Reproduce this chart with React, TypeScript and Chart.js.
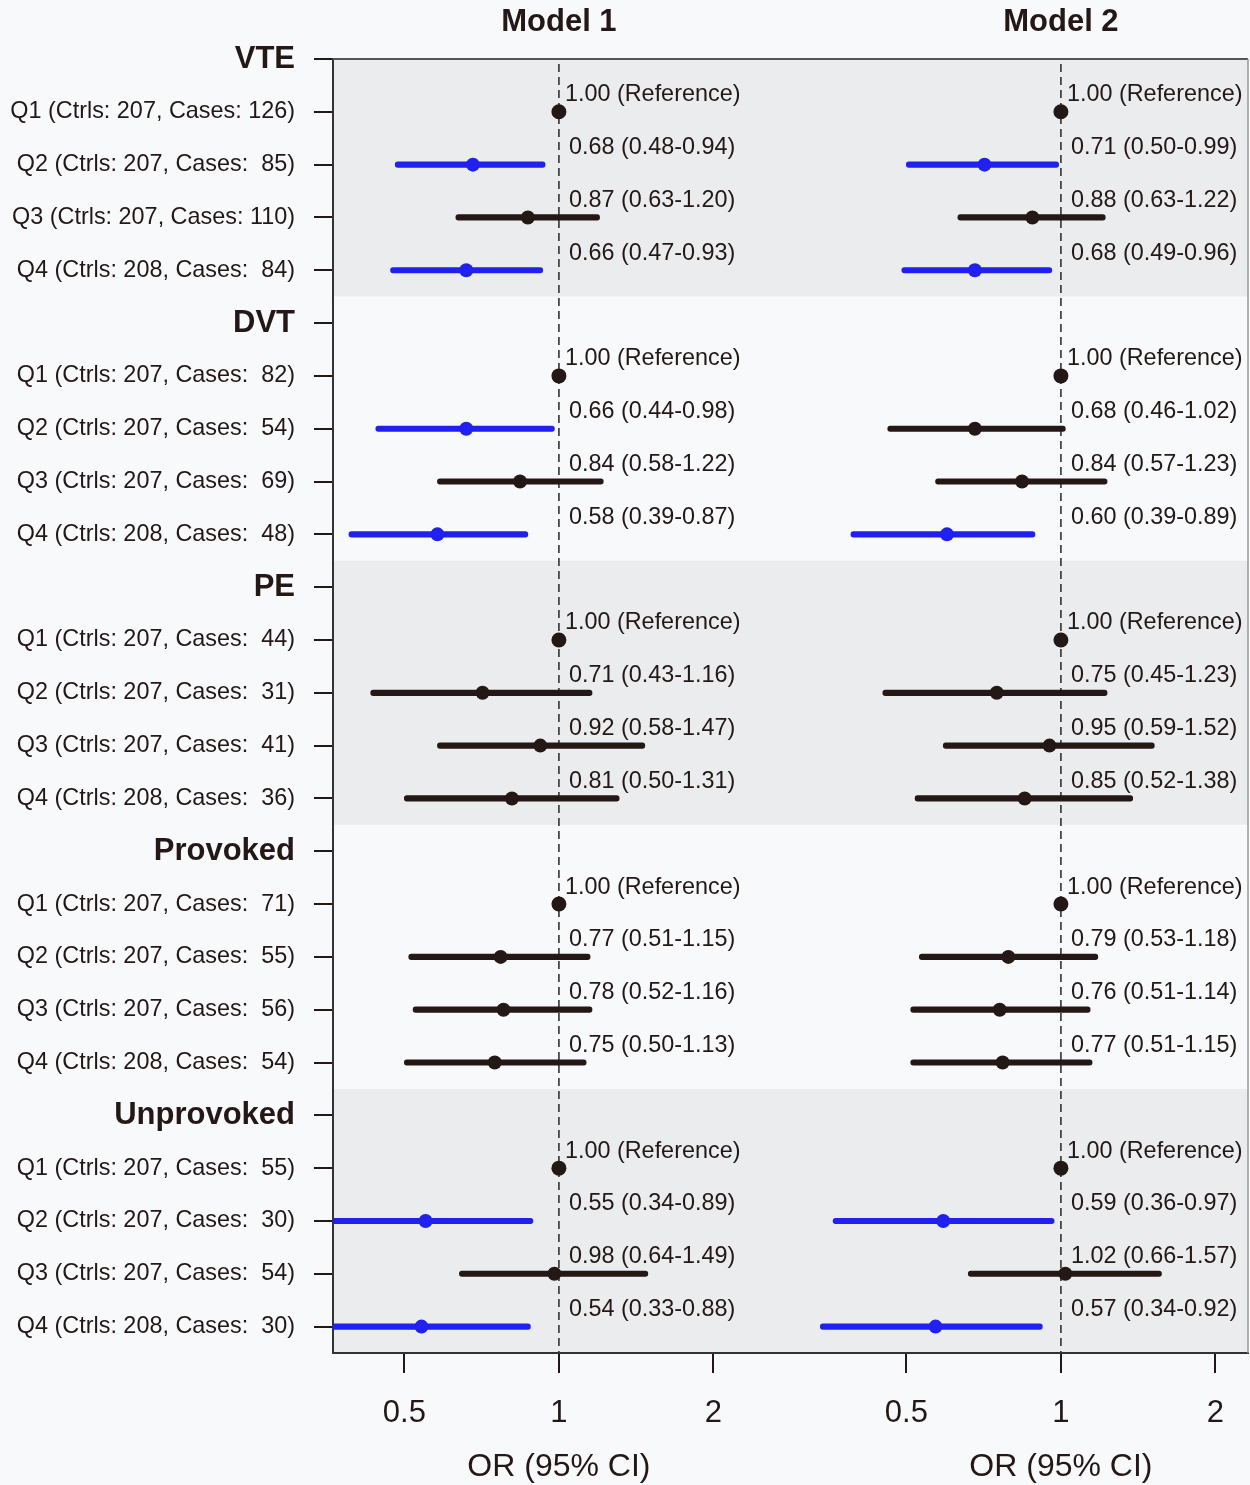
import { useEffect, useRef } from 'react';
import { Chart, registerables } from 'chart.js';

Chart.register(...registerables);

// ---------------- data ----------------
const groups = ['VTE', 'DVT', 'PE', 'Provoked', 'Unprovoked'];
const quartiles = ['Q1', 'Q2', 'Q3', 'Q4'];
const ctrls = [207, 207, 207, 208];
const cases = [
  [126, 85, 110, 84],
  [82, 54, 69, 48],
  [44, 31, 41, 36],
  [71, 55, 56, 54],
  [55, 30, 54, 30],
];

// Model 1
const m1Or = [
  [1, 0.68, 0.87, 0.66],
  [1, 0.66, 0.84, 0.58],
  [1, 0.71, 0.92, 0.81],
  [1, 0.77, 0.78, 0.75],
  [1, 0.55, 0.98, 0.54],
];
const m1Lo = [
  [null, 0.48, 0.63, 0.47],
  [null, 0.44, 0.58, 0.39],
  [null, 0.43, 0.58, 0.5],
  [null, 0.51, 0.52, 0.5],
  [null, 0.34, 0.64, 0.33],
];
const m1Hi = [
  [null, 0.94, 1.2, 0.93],
  [null, 0.98, 1.22, 0.87],
  [null, 1.16, 1.47, 1.31],
  [null, 1.15, 1.16, 1.13],
  [null, 0.89, 1.49, 0.88],
];

// Model 2
const m2Or = [
  [1, 0.71, 0.88, 0.68],
  [1, 0.68, 0.84, 0.6],
  [1, 0.75, 0.95, 0.85],
  [1, 0.79, 0.76, 0.77],
  [1, 0.59, 1.02, 0.57],
];
const m2Lo = [
  [null, 0.5, 0.63, 0.49],
  [null, 0.46, 0.57, 0.39],
  [null, 0.45, 0.59, 0.52],
  [null, 0.53, 0.51, 0.51],
  [null, 0.36, 0.66, 0.34],
];
const m2Hi = [
  [null, 0.99, 1.22, 0.96],
  [null, 1.02, 1.23, 0.89],
  [null, 1.23, 1.52, 1.38],
  [null, 1.18, 1.14, 1.15],
  [null, 0.97, 1.57, 0.92],
];

const modelTitles = ['Model 1', 'Model 2'];
const xTickValues = [0.5, 1, 2];
const xAxisTitle = 'OR (95% CI)';

// ---------------- styles ----------------
const FONT = "'Liberation Sans', Arial, sans-serif";
const INK = '#231815';
const BLUE = '#2020f0';
const PAGE_BG = '#f8f9fb';
const BAND_BG = '#ebeced';

// ---------------- build rows ----------------
const rowLabels: string[] = [];
const headerRows: boolean[] = [];
type Pt = { x: number; y: number; lo: number | null; hi: number | null };
const pts: Pt[][] = [[], []];
const bars: any[][] = [[], []];
const models = [
  [m1Or, m1Lo, m1Hi],
  [m2Or, m2Lo, m2Hi],
];

groups.forEach((g, gi) => {
  rowLabels.push(g);
  headerRows.push(true);
  quartiles.forEach((q, qi) => {
    const y = rowLabels.length;
    rowLabels.push(`${q} (Ctrls: ${ctrls[qi]}, Cases: ${String(cases[gi][qi]).padStart(3, ' ')})`);
    headerRows.push(false);
    models.forEach(([or, lo, hi], mi) => {
      const p: Pt = { x: or[gi][qi] as number, y, lo: lo[gi][qi], hi: hi[gi][qi] };
      pts[mi].push(p);
      if (p.lo != null && p.hi != null) {
        bars[mi].push({ x: [p.lo, p.hi], y, hi: p.hi });
      }
    });
  });
});

const isSig = (hi: number | null | undefined) => hi != null && hi < 1;

const fmt = (p: Pt) =>
  p.lo == null
    ? '1.00 (Reference)'
    : `${p.x.toFixed(2)} (${p.lo.toFixed(2)}-${(p.hi as number).toFixed(2)})`;

const decorPlugin = {
  id: 'decor',
  beforeDraw(chart: any) {
    const { ctx, chartArea: a, scales } = chart;
    ctx.save();
    ctx.fillStyle = PAGE_BG;
    ctx.fillRect(0, 0, chart.width, chart.height);
    const ys = scales.y;
    groups.forEach((_, gi) => {
      const t = Math.max(a.top, ys.getPixelForValue(gi * 5 - 0.5));
      const b = Math.min(a.bottom, ys.getPixelForValue(gi * 5 + 4.5));
      ctx.fillStyle = gi % 2 === 0 ? BAND_BG : PAGE_BG;
      ctx.fillRect(a.left, t, a.right - a.left, b - t);
    });
    ctx.restore();
  },
  beforeDatasetsDraw(chart: any) {
    const { ctx, chartArea: a, scales } = chart;
    ctx.save();
    // frame top & right
    ctx.strokeStyle = '#555';
    ctx.lineWidth = 2;
    ctx.beginPath();
    ctx.moveTo(a.left, a.top);
    ctx.lineTo(a.right, a.top);
    ctx.stroke();
    ctx.strokeStyle = '#999';
    ctx.lineWidth = 1.5;
    ctx.beginPath();
    ctx.moveTo(a.right, a.top);
    ctx.lineTo(a.right, a.bottom);
    ctx.stroke();
    // dashed reference lines
    ctx.strokeStyle = '#333';
    ctx.lineWidth = 1.6;
    ctx.setLineDash([8, 5]);
    ['x1', 'x2'].forEach((id) => {
      const x = scales[id].getPixelForValue(1);
      ctx.beginPath();
      ctx.moveTo(x, a.top + 5);
      ctx.lineTo(x, a.bottom);
      ctx.stroke();
    });
    ctx.restore();
  },
  afterDatasetsDraw(chart: any) {
    const { ctx, scales } = chart;
    ctx.save();
    ctx.fillStyle = INK;
    ctx.textBaseline = 'middle';
    ctx.textAlign = 'left';
    ctx.font = `23.4px ${FONT}`;
    ['x1', 'x2'].forEach((id, mi) => {
      const x1 = scales[id].getPixelForValue(1);
      pts[mi].forEach((p) => {
        const off = p.lo == null ? 6 : 10;
        ctx.fillText(fmt(p), x1 + off, scales.y.getPixelForValue(p.y) - 17);
      });
    });
    ctx.textAlign = 'center';
    ['x1', 'x2'].forEach((id, mi) => {
      const cx = scales[id].getPixelForValue(1);
      ctx.font = `bold 31px ${FONT}`;
      ctx.fillText(modelTitles[mi], cx, 22);
      ctx.font = `32px ${FONT}`;
      ctx.fillText(xAxisTitle, cx, 1467);
    });
    ctx.restore();
  },
};

const noPad = (s: any) => {
  s.paddingLeft = 0;
  s.paddingRight = 0;
  s.paddingTop = 0;
  s.paddingBottom = 0;
};

const xScale = (weight: number, min: number, max: number) => ({
  type: 'logarithmic',
  axis: 'x',
  position: 'bottom',
  stack: 'models',
  stackWeight: weight,
  min,
  max,
  offset: false,
  afterBuildTicks: (s: any) => {
    s.ticks = xTickValues.map((v) => ({ value: v }));
  },
  afterFit: (s: any) => {
    s.height = 132;
    noPad(s);
  },
  ticks: {
    autoSkip: false,
    maxRotation: 0,
    padding: 22,
    color: INK,
    font: { family: FONT, size: 31 },
    callback: (v: any) => String(v),
  },
  grid: {
    display: true,
    drawOnChartArea: false,
    drawTicks: true,
    tickLength: 20,
    offset: false,
    color: INK,
    lineWidth: 2,
  },
  border: { display: true, color: '#333', width: 2 },
});

export default function App() {
  const ref = useRef<HTMLCanvasElement>(null);
  useEffect(() => {
    if (!ref.current) return;
    const datasets: any[] = [];
    ['x1', 'x2'].forEach((id, mi) => {
      // Model 2 intervals may run left past the panel split (still inside the frame)
      const clip = mi === 0 ? { left: 0, right: 0, top: 10, bottom: 0 } : { left: 30, right: 0, top: 10, bottom: 0 };
      datasets.push({
        type: 'bar',
        indexAxis: 'y',
        xAxisID: id,
        yAxisID: 'y',
        data: bars[mi],
        barThickness: 5.5,
        grouped: false,
        borderRadius: 2.75,
        borderSkipped: false,
        borderWidth: 0,
        clip,
        backgroundColor: (c: any) => (isSig(c.raw && c.raw.hi) ? BLUE : INK),
      });
      datasets.push({
        type: 'scatter',
        xAxisID: id,
        yAxisID: 'y',
        data: pts[mi],
        showLine: false,
        clip,
        pointRadius: (c: any) => (c.raw && c.raw.lo == null ? 7.5 : 7),
        pointHoverRadius: 7,
        pointBorderWidth: 0,
        pointBackgroundColor: (c: any) => (isSig(c.raw && c.raw.hi) ? BLUE : INK),
      });
    });
    const chart = new Chart(ref.current, {
      type: 'bar',
      data: { datasets },
      options: {
        animation: false,
        responsive: false,
        layout: { autoPadding: false, padding: { top: 59, right: 2, left: 0, bottom: 0 } },
        plugins: { legend: { display: false }, tooltip: { enabled: false } },
        scales: {
          x1: xScale(502, 0.3631, 3.449),
          x2: xScale(413, 0.3631, 2.314),
          y: {
            type: 'linear',
            axis: 'y',
            position: 'left',
            min: 0,
            max: 24.5,
            reverse: true,
            offset: false,
            afterBuildTicks: (s: any) => {
              s.ticks = rowLabels.map((_, i) => ({ value: i }));
            },
            afterFit: (s: any) => {
              s.width = 333;
              noPad(s);
            },
            ticks: {
              autoSkip: false,
              padding: 19,
              color: INK,
              font: (c: any) =>
                headerRows[c.index]
                  ? { family: FONT, size: 31, weight: 'bold' }
                  : { family: FONT, size: 23.4 },
              callback: (v: any) => rowLabels[v as number],
            },
            grid: {
              display: true,
              drawOnChartArea: false,
              drawTicks: true,
              tickLength: 19,
              offset: false,
              color: INK,
              lineWidth: 2,
            },
            border: { display: true, color: '#333', width: 2 },
          },
        },
      } as any,
      plugins: [decorPlugin],
    } as any);
    return () => chart.destroy();
  }, []);
  return (
    <div style={{ position: 'absolute', left: 0, top: 0, width: 1250, height: 1485, background: PAGE_BG }}>
      <canvas ref={ref} width={1250} height={1485} style={{ display: 'block', width: 1250, height: 1485 }} />
    </div>
  );
}
